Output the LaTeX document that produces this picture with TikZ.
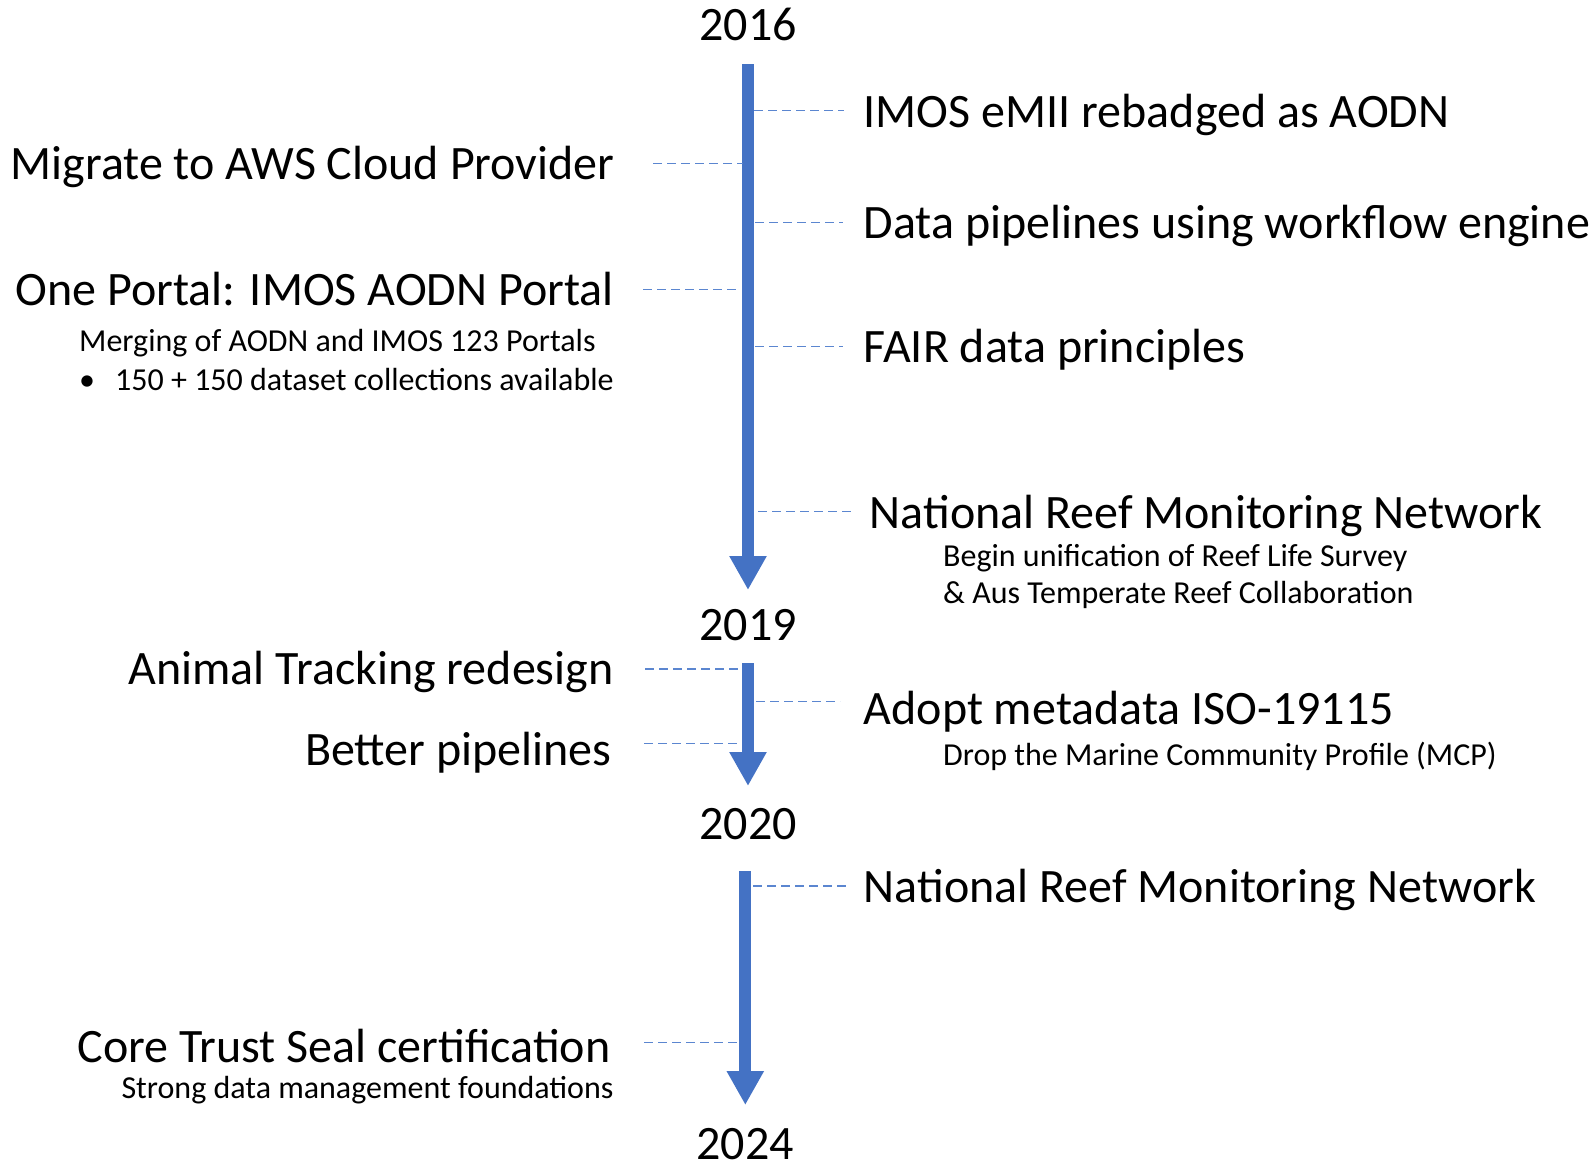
\documentclass[tikz,border=0pt]{standalone}
\usepackage{fontspec}
\setmainfont{Carlito}
\usetikzlibrary{arrows.meta}
\definecolor{tlblue}{HTML}{4472C4}
\definecolor{dashblue}{HTML}{5B86D0}
\tikzset{
  big/.style={inner sep=0pt,font=\fontsize{48}{56}\selectfont},
  small/.style={inner sep=0pt,font=\fontsize{32}{38}\selectfont},
  yearlbl/.style={big,anchor=base},
  timeline/.style={tlblue,line width=11.7pt,-{Triangle[width=35pt,length=34pt]}},
  dashline/.style={dashblue,line width=1.5pt,dash pattern=on 9pt off 5pt}
}
\begin{document}
\begin{tikzpicture}[x=1pt,y=-1pt]
\useasboundingbox (0,0) rectangle (1593,1162);
% years
\node[yearlbl] (y2016) at (748,40.7) {2016};
\node[yearlbl] (y2019) at (748,640) {2019};
\node[yearlbl] (y2020) at (748,839) {2020};
\node[yearlbl] (y2024) at (745,1159) {2024};
% arrows
\coordinate (a1s) at (748,64);
\coordinate (a1e) at (748,590);
\coordinate (a2s) at (748,663);
\coordinate (a2e) at (748,786);
\coordinate (a3s) at (745.3,871);
\coordinate (a3e) at (745.3,1105);
\draw[timeline] (a1s) -- (a1e);
\draw[timeline] (a2s) -- (a2e);
\draw[timeline] (a3s) -- (a3e);
% right labels
\node[big,anchor=base west] (r1) at (863.6,127) {IMOS eMII rebadged as AODN};
\node[big,anchor=base west] (r2) at (863.6,238) {Data pipelines using workflow engine};
\node[big,anchor=base west] (r3) at (863.6,362) {FAIR data principles};
\node[big,anchor=base west] (r4) at (869.7,528.5) {National Reef Monitoring Network};
\node[small,anchor=base west] (r4a) at (943,566) {Begin unification of Reef Life Survey};
\node[small,anchor=base west] (r4b) at (943,603) {\&\ Aus Temperate Reef Collaboration};
\node[big,anchor=base west] (r5) at (863.6,724.5) {Adopt metadata ISO-19115};
\node[small,anchor=base west] (r5a) at (943,765) {Drop the Marine Community Profile (MCP)};
\node[big,anchor=base west] (r6) at (863.6,902.5) {National Reef Monitoring Network};
% left labels
\node[big,anchor=base east] (l1) at (614.7,179) {Migrate to AWS Cloud Provider};
\node[big,anchor=base east] (l2) at (613.7,305) {One Portal: IMOS AODN Portal};
\node[small,anchor=base west] (l2a) at (79,351) {Merging of AODN and IMOS 123 Portals};
\node[small,anchor=base west] (l2bul) at (79,390) {•};
\node[small,anchor=base west] (l2b) at (115,390) {150 + 150 dataset collections available};
\node[big,anchor=base east] (l3) at (613.7,684) {Animal Tracking redesign};
\node[big,anchor=base east] (l4) at (611.6,765) {Better pipelines};
\node[big,anchor=base east] (l5) at (610.6,1062) {Core Trust Seal certification};
\node[small,anchor=base east] (l5a) at (613.7,1098) {Strong data management foundations};
% dashed connector ends
\coordinate (d1a) at (754,110.7);   \coordinate (d1b) at (844,110.7);
\coordinate (d2a) at (653,163.3);   \coordinate (d2b) at (743,163.3);
\coordinate (d3a) at (755,222.5);   \coordinate (d3b) at (843,222.5);
\coordinate (d4a) at (643,289.6);   \coordinate (d4b) at (739,289.6);
\coordinate (d5a) at (755,346.5);   \coordinate (d5b) at (843,346.5);
\coordinate (d6a) at (758,511.7);   \coordinate (d6b) at (853,511.7);
\coordinate (d7a) at (645,669);     \coordinate (d7b) at (743,669);
\coordinate (d8a) at (756,701.7);   \coordinate (d8b) at (840,701.7);
\coordinate (d9a) at (644,743.3);   \coordinate (d9b) at (740,743.3);
\coordinate (d10a) at (753,886);    \coordinate (d10b) at (848,886);
\coordinate (d11a) at (644,1042.3); \coordinate (d11b) at (740,1042.3);
\foreach \i in {1,...,11} { \draw[dashline] (d\i a) -- (d\i b); }
\end{tikzpicture}
\end{document}
